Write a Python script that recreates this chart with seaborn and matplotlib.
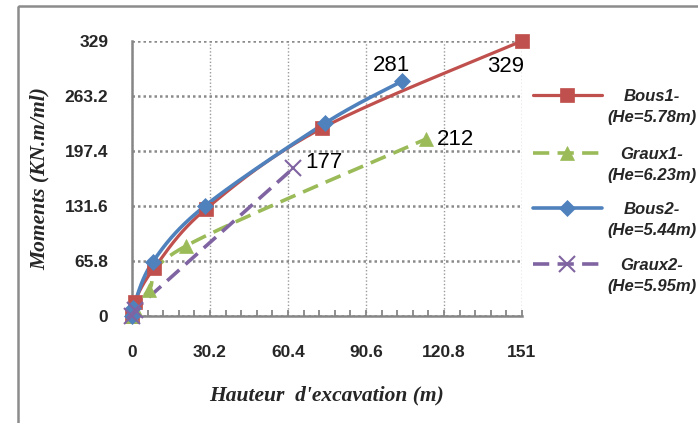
import numpy as np
import seaborn as sns
import matplotlib
matplotlib.use("Agg")
import matplotlib.pyplot as plt
from matplotlib.lines import Line2D
from matplotlib.patches import Rectangle

# Donnees
bous1_x = [0, 1, 8.5, 28.6, 73.7, 151]
bous1_y = [0, 17, 57, 128, 225, 329]
graux1_x = [0, 1, 6.5, 21, 114]
graux1_y = [0, 8, 31, 84, 212]
bous2_x = [0, 0.5, 8.1, 28.2, 74.9, 104.6]
bous2_y = [0, 10, 65, 131.6, 231, 281]
graux2_x = [0, 1, 62.5]
graux2_y = [0, 7, 177]

x_ticks = [0, 30.2, 60.4, 90.6, 120.8, 151]
x_labels = ["0", "30.2", "60.4", "90.6", "120.8", "151"]
y_ticks = [0, 65.8, 131.6, 197.4, 263.2, 329]
y_labels = ["0", "65.8", "131.6", "197.4", "263.2", "329"]

noms = ["Bous1-\n(He=5.78m)", "Graux1-\n(He=6.23m)", "Bous2-\n(He=5.44m)", "Graux2-\n(He=5.95m)"]
etiquettes = ["329", "212", "281", "177"]


def lisser(xs, ys, n=40):
    # courbe lissee facon Excel (Bezier / Catmull-Rom)
    p = np.column_stack([xs, ys]).astype(float)
    ext = np.vstack([p[0], p, p[-1]])
    t = np.linspace(0, 1, n)[:, None]
    out = []
    for i in range(len(p) - 1):
        p0, p1, p2, p3 = ext[i], ext[i + 1], ext[i + 2], ext[i + 3]
        c1 = p1 + (p2 - p0) / 6
        c2 = p2 - (p3 - p1) / 6
        seg = (1 - t) ** 3 * p1 + 3 * (1 - t) ** 2 * t * c1 + 3 * (1 - t) * t ** 2 * c2 + t ** 3 * p2
        out.append(seg if i == 0 else seg[1:])
    return np.vstack(out)


sns.set_style("white")
plt.rcParams["font.family"] = ["Liberation Sans", "DejaVu Sans"]

fig = plt.figure(figsize=(6.98, 4.23), dpi=100)
W, H = 698, 423
ax = fig.add_axes([132 / W, (H - 316) / H, (522 - 132) / W, (316 - 41) / H])

series = [
    (bous1_x, bous1_y, "#C0504D", "s", 10, "-", 2.3),
    (graux1_x, graux1_y, "#9BBB59", "^", 10, "--", 2.6),
    (bous2_x, bous2_y, "#4F81BD", "D", 8, "-", 2.6),
    (graux2_x, graux2_y, "#8064A2", "x", 11, "--", 2.6),
]

for xs, ys, col, mk, ms, ls, lw in series:
    c = lisser(xs, ys)
    sns.lineplot(x=c[:, 0], y=c[:, 1], sort=False, estimator=None, ax=ax,
                 color=col, linewidth=lw, zorder=3)
    if ls == "--":
        ax.lines[-1].set_dashes((4.5, 2.3))
    ax.plot(xs, ys, ls="none", marker=mk, ms=ms, color=col,
            mec=col, mew=1.5 if mk == "x" else 0.5, zorder=4, clip_on=False)

# etiquettes de valeurs
pts = [(bous1_x[-1], bous1_y[-1], (-11.5, -18.5)),
       (graux1_x[-1], graux1_y[-1], (21, -0.5)),
       (bous2_x[-1], bous2_y[-1], (-8, 11)),
       (graux2_x[-1], graux2_y[-1], (22, 4.3))]
for (px, py, off), txt in zip(pts, etiquettes):
    ax.annotate(txt, (px, py), xytext=off, textcoords="offset points",
                ha="center", va="center", fontsize=16, color="black", zorder=5)

ax.set_xlim(0, 151)
ax.set_ylim(0, 329)
ax.set_xticks(x_ticks)
ax.set_xticklabels(x_labels, fontweight="bold", fontsize=12.5)
ax.set_yticks(y_ticks)
ax.set_yticklabels(y_labels, fontweight="bold", fontsize=12.5)
ax.set_xticks(np.arange(0, 151, 30.2 / 5), minor=True)
ax.tick_params(axis="x", which="both", direction="in", length=4, width=1.3,
               color="#868686", pad=21, bottom=True)
ax.tick_params(axis="y", which="both", length=0, pad=17)

ax.grid(False)
ax.yaxis.grid(True, color="#8a8a8a", linestyle=(0, (1, 1.2)), linewidth=1.8)
ax.xaxis.grid(True, which="major", color="#9a9a9a", linestyle=(0, (1, 1.5)), linewidth=1.0)
for s in ["top", "right"]:
    ax.spines[s].set_visible(False)
for s in ["left", "bottom"]:
    ax.spines[s].set_color("#868686")
    ax.spines[s].set_linewidth(1.8)
ax.set_axisbelow(True)

ax.set_xlabel("Hauteur  d'excavation (m)", family="Liberation Serif",
              fontweight="bold", style="italic", fontsize=15.5, labelpad=18)
ax.set_ylabel("Moments (KN.m/ml)", family="Liberation Serif",
              fontweight="bold", style="italic", fontsize=15.5, labelpad=11)

# legende dessinee a droite, en pixels de la figure
lg = fig.add_axes([0, 0, 1, 1], facecolor="none")
lg.set_xlim(0, W)
lg.set_ylim(H, 0)
lg.axis("off")
lignes_y = [95, 153, 208, 264]
for (xs, ys, col, mk, ms, ls, lw), nom, yy in zip(series, noms, lignes_y):
    l = Line2D([533, 602], [yy, yy], color=col, linewidth=lw)
    if ls == "--":
        l.set_dashes((4.5, 2.3))
    lg.add_line(l)
    lg.plot([567], [yy], ls="none", marker=mk, ms=ms, color=col, mec=col,
            mew=1.5 if mk == "x" else 0.5)
    lg.text(652, yy + 12, nom, ha="center", va="center", multialignment="center",
            fontsize=12, fontweight="bold", style="italic", linespacing=1.5)

# cadre du graphique
lg.add_patch(Rectangle((18, 6), 760, 500, fill=False, edgecolor="#8c8c8c", linewidth=1.8))

fig.savefig("out.png", dpi=100)
